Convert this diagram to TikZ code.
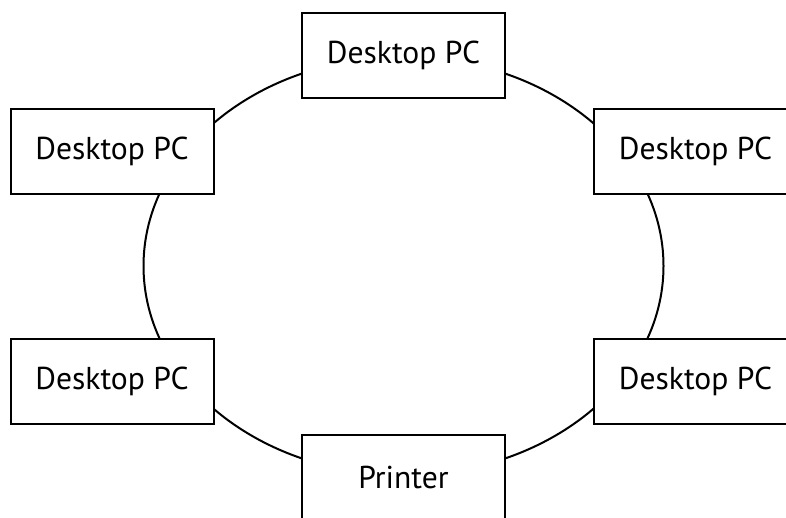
\documentclass[tikz,border=0pt]{standalone}
\usepackage{fontspec}
\setmainfont{PT Sans}
\tikzset{
  pcbox/.style={draw, fill=white, line width=1pt, minimum width=101.5pt,
    minimum height=42.5pt, inner sep=0pt, font=\fontsize{15.8}{17}\selectfont}
}
\begin{document}
\begin{tikzpicture}[x=0.5pt,y=-0.5pt]
\clip (0,0) rectangle (786,518);
\useasboundingbox (0,0) rectangle (786,518);
\coordinate (ring) at (403.5,266);
\draw[line width=1pt] (ring) ellipse [x radius=130pt, y radius=104.5pt];

\path
(403.5,55.5) node[pcbox](pctop){Desktop PC}
(112,151.5) node[pcbox](pcul){Desktop PC}
(695.5,151.5) node[pcbox](pcur){Desktop PC}
(112,381) node[pcbox](pcll){Desktop PC}
(695.5,381) node[pcbox](pclr){Desktop PC}
(403.5,477) node[pcbox](printer){Printer};
\end{tikzpicture}
\end{document}
